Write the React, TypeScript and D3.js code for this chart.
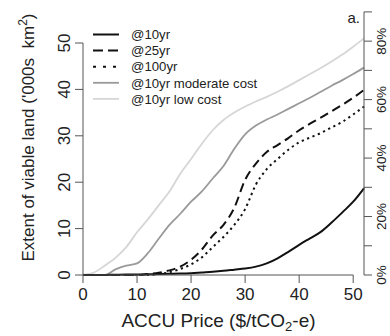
import React from "react";
import * as d3 from "d3";

// ACCU carbon price ($/tCO2-e)
const prices = [0, 2, 4, 6, 8, 10, 12, 14, 16, 18, 20, 22, 24, 26, 28, 30, 32, 34, 36, 38, 40, 42, 44, 46, 48, 50, 52];

// Extent of viable land ('000s km²) by scenario
const at10yr = [0, 0, 0, 0.05, 0.1, 0.1, 0.15, 0.2, 0.25, 0.3, 0.4, 0.55, 0.7, 0.9, 1.15, 1.4, 1.8, 2.5, 3.6, 5.0, 6.5, 7.9, 9.3, 11.3, 13.5, 15.8, 18.7];
const at25yr = [0, 0, 0, 0, 0, 0, 0.2, 0.5, 1.0, 1.8, 3.3, 5.5, 8.5, 10.8, 14.5, 20.5, 24.0, 26.5, 28.0, 29.5, 31.2, 32.6, 33.9, 35.3, 36.7, 38.2, 39.9];
const at100yr = [0, 0, 0, 0, 0, 0, 0, 0.2, 0.6, 1.3, 2.3, 3.8, 6.0, 8.2, 10.8, 14.2, 19.5, 22.8, 25.0, 27.0, 28.6, 29.6, 30.6, 31.8, 33.0, 34.6, 36.3];
const at10yrModerate = [0, 0, 0, 1.2, 2.0, 2.5, 4.7, 7.8, 10.8, 13.2, 15.8, 18.0, 20.8, 23.5, 27.2, 30.3, 32.2, 33.5, 34.6, 35.8, 37.0, 38.2, 39.5, 40.8, 42.0, 43.3, 44.7];
const at10yrLow = [0, 0.5, 2.0, 3.7, 6.0, 9.2, 12.0, 15.0, 18.0, 21.8, 25.0, 28.3, 31.2, 33.4, 35.0, 36.3, 37.4, 38.4, 39.5, 40.7, 42.0, 43.3, 44.6, 46.0, 47.5, 49.2, 51.0];

const seriesNames = ["@10yr", "@25yr", "@100yr", "@10yr moderate cost", "@10yr low cost"];
const seriesValues = [at10yr, at25yr, at100yr, at10yrModerate, at10yrLow];

// Axis ticks
const xTicks = [0, 10, 20, 30, 40, 50];
const yTicks = [0, 10, 20, 30, 40, 50];
const pctTicks = [0, 0.1, 0.2, 0.3, 0.4, 0.5, 0.6, 0.7, 0.8, 0.9];
const pctLabelTicks = [0, 0.2, 0.4, 0.6, 0.8];
const totalLand = 63; // '000s km² corresponding to 100%

const styles = [
  { stroke: "#111", width: 2, dash: null, legendDash: null },
  { stroke: "#111", width: 2, dash: "9,5", legendDash: "10,5" },
  { stroke: "#111", width: 2, dash: "2.2,3.6", legendDash: "3,7" },
  { stroke: "#9a9a9a", width: 1.8, dash: null, legendDash: null },
  { stroke: "#d6d6d6", width: 1.8, dash: null, legendDash: null },
];

const FONT = "'Liberation Sans', Arial, Helvetica, sans-serif";
const AXIS = "#555";
const TEXT = "#222";

export default function App() {
  const W = 390;
  const H = 336;
  const x = d3.scaleLinear().domain([0, 52]).range([83, 364]);
  const y = d3.scaleLinear().domain([0, 50]).range([275, 43]);
  const yPct = d3
    .scaleLinear()
    .domain([0, 0.9])
    .range([y(0), y(0.9 * totalLand)]);

  const line = d3
    .line<number>()
    .x((_, i) => x(prices[i]))
    .y((d) => y(d))
    .curve(d3.curveMonotoneX);

  const xRight = x(52);
  const legendX0 = 93;
  const legendX1 = 119;
  const legendTextX = 131;
  const legendY0 = 34.5;
  const legendStep = 16.1;

  return (
    <div style={{ position: "fixed", left: 0, top: 0 }}>
      <svg width={W} height={H} style={{ display: "block", background: "#fff" }} fontFamily={FONT}>
        {/* series */}
        {[4, 3, 2, 1, 0].map((k) => (
          <path
            key={seriesNames[k]}
            d={line(seriesValues[k]) || ""}
            fill="none"
            stroke={styles[k].stroke}
            strokeWidth={styles[k].width}
            strokeDasharray={styles[k].dash || undefined}
            strokeLinejoin="round"
          />
        ))}

        {/* bottom axis */}
        <line x1={x(0)} x2={x(50)} y1={y(0)} y2={y(0)} stroke={AXIS} strokeWidth={1} />
        {xTicks.map((t) => (
          <g key={"x" + t}>
            <line x1={x(t)} x2={x(t)} y1={y(0)} y2={y(0) + 8} stroke={AXIS} strokeWidth={1} />
            <text x={x(t)} y={300} textAnchor="middle" fontSize={17} fill={TEXT}>
              {t}
            </text>
          </g>
        ))}
        <text x={218.5} y={327} textAnchor="middle" fontSize={19} fill={TEXT}>
          ACCU Price ($/tCO
          <tspan fontSize={13} dy={4}>2</tspan>
          <tspan dy={-4}>-e)</tspan>
        </text>

        {/* left axis */}
        <line x1={x(0)} x2={x(0)} y1={y(0)} y2={y(50)} stroke={AXIS} strokeWidth={1} />
        {yTicks.map((t) => (
          <g key={"y" + t}>
            <line x1={x(0) - 8} x2={x(0)} y1={y(t)} y2={y(t)} stroke={AXIS} strokeWidth={1} />
            <text
              transform={`translate(70,${y(t)}) rotate(-90)`}
              textAnchor="middle"
              fontSize={17}
              fill={TEXT}
            >
              {t}
            </text>
          </g>
        ))}
        <text
          transform={`translate(34,137.5) rotate(-90)`}
          textAnchor="middle"
          fontSize={17}
          fill={TEXT}
          style={{ whiteSpace: "pre" }}
        >
          {"Extent of viable land ('000s  km"}
          <tspan fontSize={12} dy={-7}>2</tspan>
          <tspan dy={7}>)</tspan>
        </text>

        {/* right axis (share of total land) */}
        <line x1={xRight} x2={xRight} y1={yPct(0)} y2={yPct(0.9)} stroke={AXIS} strokeWidth={1} />
        {pctTicks.map((t) => (
          <line
            key={"p" + t}
            x1={xRight}
            x2={xRight + 8}
            y1={yPct(t)}
            y2={yPct(t)}
            stroke={AXIS}
            strokeWidth={1}
          />
        ))}
        {pctLabelTicks.map((t) => (
          <text
            key={"pl" + t}
            transform={`translate(386,${yPct(t)}) rotate(-90)`}
            textAnchor="middle"
            fontSize={13.5}
            fill={TEXT}
          >
            {d3.format(".0%")(t)}
          </text>
        ))}

        <text x={360} y={23} textAnchor="end" fontSize={15} fill={TEXT}>
          a.
        </text>

        {/* legend */}
        {seriesNames.map((name, k) => {
          const ly = legendY0 + k * legendStep;
          return (
            <g key={"lg" + name}>
              <line
                x1={legendX0}
                x2={legendX1}
                y1={ly}
                y2={ly}
                stroke={styles[k].stroke}
                strokeWidth={styles[k].width}
                strokeDasharray={styles[k].legendDash || undefined}
              />
              <text x={legendTextX} y={ly + 4.7} fontSize={13.2} fill={TEXT}>
                {name}
              </text>
            </g>
          );
        })}
      </svg>
    </div>
  );
}
